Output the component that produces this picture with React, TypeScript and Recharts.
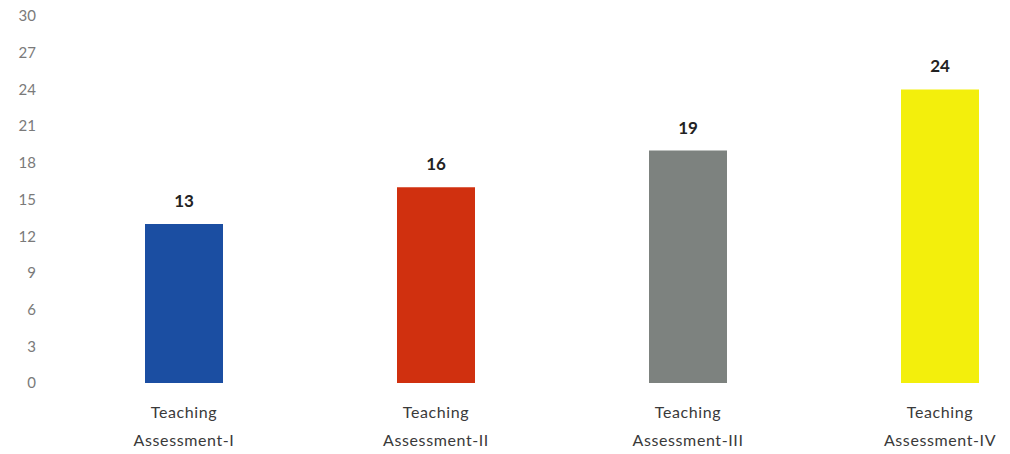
import { BarChart, Bar, XAxis, YAxis, Cell, LabelList } from "recharts";

const categories = ["Assessment-I", "Assessment-II", "Assessment-III", "Assessment-IV"];
const scores = [13, 16, 19, 24];
const yTicks = [0, 3, 6, 9, 12, 15, 18, 21, 24, 27, 30];
const barColors = ["#1b4ea2", "#d0300f", "#7d827f", "#f3ef0c"];

const data = categories.map((name, i) => ({ name, score: scores[i] }));

const FONT = "Lato, 'Open Sans', sans-serif";

function CategoryTick(props: any) {
  const { x, y, payload } = props;
  return (
    <text x={x} y={y} textAnchor="middle" fill="#3a3a3a" fontSize={16} letterSpacing={0.6} fontFamily={FONT}>
      <tspan x={x} dy={27}>Teaching</tspan>
      <tspan x={x} dy={28}>{payload.value}</tspan>
    </text>
  );
}

export default function App() {
  return (
    <div style={{ position: "absolute", left: 0, top: 0, width: 1010, height: 454, overflow: "hidden", background: "#fff" }}>
      <BarChart
        width={1010}
        height={454}
        data={data}
        margin={{ top: 16, right: -56, bottom: 0, left: 0 }}
        barCategoryGap={0}
      >
        <YAxis
          domain={[0, 30]}
          ticks={yTicks}
          width={58}
          axisLine={false}
          tickLine={false}
          tickSize={0}
          tickMargin={22}
          tick={{ fill: "#7a7a7a", fontSize: 15, fontFamily: FONT }}
        />
        <XAxis
          dataKey="name"
          axisLine={false}
          tickLine={false}
          height={71}
          interval={0}
          tick={<CategoryTick />}
        />
        <Bar dataKey="score" barSize={78} isAnimationActive={false}>
          {data.map((d, i) => (
            <Cell key={`c-${i}`} fill={barColors[i]} />
          ))}
          <LabelList
            dataKey="score"
            position="top"
            offset={17}
            fill="#222"
            fontSize={17}
            fontWeight="bold"
            fontFamily={FONT}
          />
        </Bar>
      </BarChart>
    </div>
  );
}
